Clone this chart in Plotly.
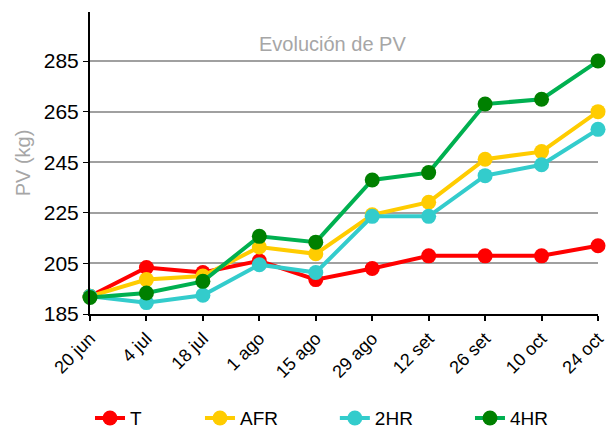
import plotly.graph_objects as go

dates = ["20 jun", "4 jul", "18 jul", "1 ago", "15 ago", "29 ago", "12 set", "26 set", "10 oct", "24 oct"]
T = [192, 203.4, 201.4, 206, 198.6, 203, 208, 208, 208, 212]
AFR = [192, 198.6, 200, 211.5, 208.8, 224.2, 229.2, 246.2, 249.2, 265]
HR2 = [192, 189.5, 192.4, 204.5, 201.4, 223.6, 223.6, 239.7, 244, 258]
HR4 = [191.5, 193.3, 197.9, 215.7, 213.4, 238, 240.9, 268, 269.9, 285]
yticks = [185, 205, 225, 245, 265, 285]

series = [
    ("T", T, "#FF0000", "#FF0000"),
    ("AFR", AFR, "#FFCC00", "#FFCC00"),
    ("2HR", HR2, "#33CCCC", "#33CCCC"),
    ("4HR", HR4, "#00B050", "#008000"),
]
legend_ids = ["legend", "legend2", "legend3", "legend4"]
legend_x = [0.0, 0.2165, 0.482, 0.748]

fig = go.Figure()
for (name, vals, lc, mc), lid in zip(series, legend_ids):
    fig.add_trace(go.Scatter(
        x=dates, y=vals, name=name, mode="lines+markers",
        line=dict(color=lc, width=4),
        marker=dict(color=mc, size=15),
        cliponaxis=False, legend=lid,
    ))

fig.add_annotation(text="Evolución de PV", xref="paper", yref="paper",
                   x=0.478, y=0.894, xanchor="center", yanchor="middle", showarrow=False,
                   font=dict(size=20, color="#A6A6A6", family="Liberation Sans, Arial"))

legend_common = dict(orientation="h", xanchor="left", y=-0.345, yanchor="middle",
                     font=dict(size=19, color="black"), bgcolor="rgba(0,0,0,0)")
for lid, lx in zip(legend_ids, legend_x):
    fig.update_layout({lid: dict(legend_common, x=lx)})

fig.update_layout(
    width=611, height=429,
    margin=dict(l=90, r=13, t=12, b=115, autoexpand=False),
    plot_bgcolor="white", paper_bgcolor="white",
    font=dict(family="Liberation Sans, Arial", color="black"),
    showlegend=True,
    xaxis=dict(
        type="category", range=[0, 9], showgrid=False, automargin=False,
        showline=True, linecolor="black", linewidth=2,
        ticks="outside", ticklen=5, tickcolor="black", tickwidth=1.5,
        tickangle=-45, tickfont=dict(size=18, color="black"),
    ),
    yaxis=dict(
        range=[185, 304.4], tickvals=yticks, ticktext=[str(v) for v in yticks],
        showgrid=True, gridcolor="#A0A0A0", gridwidth=2, automargin=False,
        showline=True, linecolor="black", linewidth=2,
        ticks="outside", ticklen=5, tickcolor="black",
        tickfont=dict(size=21, color="black"),
        zeroline=False,
        title=dict(text="PV (kg)", font=dict(size=20, color="#A6A6A6"), standoff=8),
    ),
)

fig.write_html("out.html", post_script="document.body.style.margin='0';",
               config={"displayModeBar": False})
